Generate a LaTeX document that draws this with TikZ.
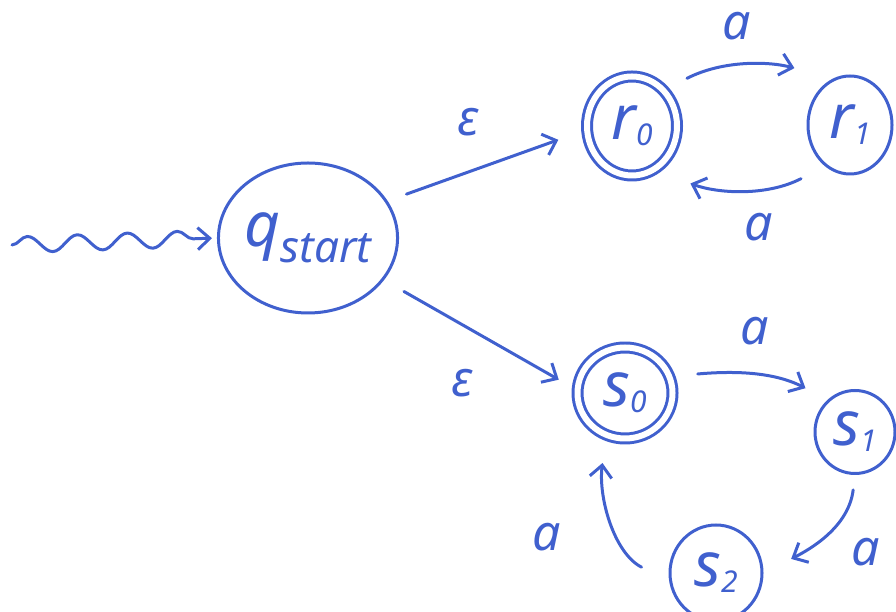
\documentclass[tikz,border=0pt]{standalone}
\usepackage{fontspec}
\setmainfont{Noto Sans}
\usetikzlibrary{arrows.meta,decorations.pathmorphing,shapes.geometric}
\definecolor{ink}{RGB}{64,96,206}
% state name with a lowered, smaller index
\newcommand{\stname}[2]{#1\raisebox{-6pt}{\fontsize{30}{30}\selectfont #2}}
\begin{document}
\begin{tikzpicture}[x=1pt,y=1pt,
  pen/.style={draw=ink,line width=3pt,line cap=round,line join=round},
  state/.style={pen,ellipse,inner sep=0pt,text=ink,font=\fontsize{62}{62}\selectfont\itshape},
  accepting/.style={state,double=white,double distance=6pt},
  trans/.style={pen,-{Straight Barb[length=12pt,width=22pt]}},
  lbl/.style={text=ink,inner sep=0pt,font=\fontsize{50}{50}\selectfont\itshape},
]
\useasboundingbox (0,0) rectangle (896,612);

% states
\node[state,minimum width=176pt,minimum height=150pt] (q) at (308,374)
  {q\raisebox{-16pt}{\fontsize{44}{44}\selectfont start}};
\node[accepting,minimum width=90pt,minimum height=99pt] (r0) at (632,486) {\stname{r}{0}};
\node[state,minimum width=84pt,minimum height=98pt] (r1) at (850,487) {\stname{r}{1}};
\node[accepting,minimum width=95pt,minimum height=91pt] (s0) at (625,219) {\stname{s}{0}};
\node[state,minimum width=80pt,minimum height=83pt] (s1) at (855,180) {\stname{s}{1}};
\node[state,minimum width=92pt,minimum height=96pt] (s2) at (716,39) {\stname{s}{2}};

% start arrow
\coordinate (entry) at (12,367);
\draw[trans,decorate,decoration={snake,amplitude=8pt,segment length=50pt,post length=12pt},shorten >=5pt] (entry) -- (q.west);

% epsilon moves
\draw[trans,shorten <=20pt,shorten >=29pt] (q.25) -- (r0.185);
\draw[trans,shorten <=23pt,shorten >=20pt] (q.-29) -- (s0.176);
\node[lbl] (e1) at (468,490) {ε};
\node[lbl] (e2) at (462,229) {ε};

% r-cycle
\draw[trans,shorten <=25pt,shorten >=40pt] (r0.48) to[out=27,in=165] (r1.110);
\draw[trans,shorten <=27pt,shorten >=38pt] (r1.-121) to[out=207,in=-20] (r0.-63);
\node[lbl] (ra) at (737,586) {a};
\node[lbl] (rb) at (759,385) {a};

% s-cycle
\draw[trans,shorten <=27pt,shorten >=25pt] (s0.20) to[out=5,in=153] (s1.130);
\draw[trans,shorten <=15pt,shorten >=31pt] (s1.-90) to[out=-97,in=27] (s2.0);
\draw[trans,shorten <=31pt,shorten >=27pt] (s2.190) to[out=153,in=-97] (s0.-114);
\node[lbl] (sa) at (755,281) {a};
\node[lbl] (sb) at (866,60) {a};
\node[lbl] (sc) at (547,75) {a};
\end{tikzpicture}
\end{document}
